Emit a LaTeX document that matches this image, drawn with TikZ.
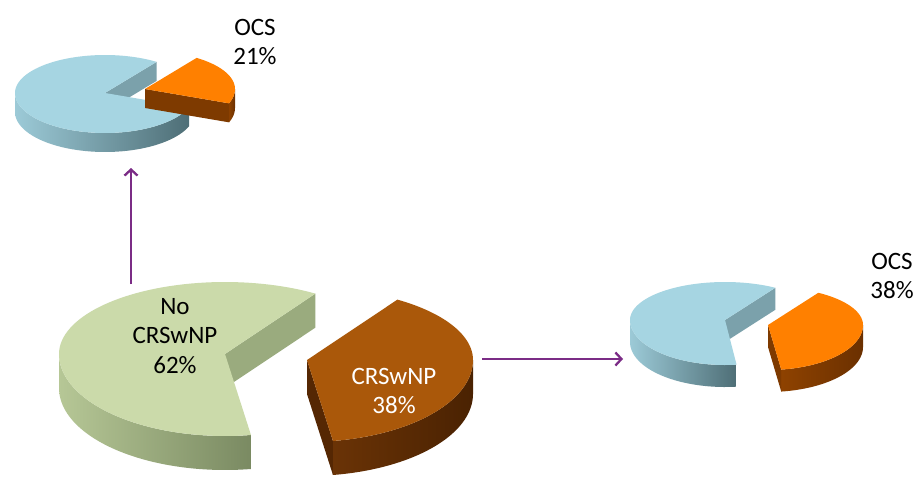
\documentclass[tikz,border=0pt]{standalone}
\usepackage{fontspec}
\setmainfont{Carlito}
\usetikzlibrary{arrows.meta}

\definecolor{flowpurple}{HTML}{7B2C86}
% green / brown pie
\definecolor{sageTop}{HTML}{CBDAAA}
\definecolor{sageWallL}{HTML}{B6C796}
\definecolor{sageWallR}{HTML}{7A8A62}
\definecolor{sageCut}{HTML}{9AAB7E}
\definecolor{rustTop}{HTML}{AA580A}
\definecolor{rustWallL}{HTML}{6A3306}
\definecolor{rustWallR}{HTML}{4A2202}
\definecolor{rustCut}{HTML}{552703}
% blue / orange pies
\definecolor{skyTop}{HTML}{A6D5E2}
\definecolor{skyWallL}{HTML}{9CCAD7}
\definecolor{skyWallR}{HTML}{4E6E76}
\definecolor{skyCut}{HTML}{7BA1AB}
\definecolor{ambTop}{HTML}{FF8000}
\definecolor{ambWallL}{HTML}{8E4200}
\definecolor{ambWallR}{HTML}{6B3000}
\definecolor{ambCut}{HTML}{7E3A00}

% point on the rim of a tilted pie (back half flatter than front half)
\tikzset{declare function={
  wx(\t)=\rx*cos(\t);
  wy(\t)=-sin(\t)*ifthenelse(sin(\t)>0,\ryb,\ryf);
}}

% one 3-D slice: vertex (#1,#2), angles #3..#4 (counter-clockwise),
% top colour #5, wall shading #6 -> #7, cut-face colour #8
\newcommand{\pieslice}[8]{%
  \pgfmathsetmacro\wa{ifthenelse(#3<0,#3,max(#3,180))}%
  \pgfmathsetmacro\wb{ifthenelse(#3<0,min(#4,0),#4)}%
  \shade[left color=#6,right color=#7]
    plot[domain=\wa:\wb,samples=50] ({#1+wx(\x)},{#2+wy(\x)})
    -- plot[domain=\wb:\wa,samples=50] ({#1+wx(\x)},{#2+wy(\x)+\dep})
    -- cycle;
  \fill[#8] (#1,#2) -- ({#1+wx(#3)},{#2+wy(#3)})
    -- ({#1+wx(#3)},{#2+wy(#3)+\dep}) -- (#1,{#2+\dep}) -- cycle;
  \fill[#5] (#1,#2) -- plot[domain=#3:#4,samples=90] ({#1+wx(\x)},{#2+wy(\x)}) -- cycle;
}

\begin{document}
\begin{tikzpicture}[x=1pt,y=-1pt,
  lbl/.style={align=center,inner sep=0pt,font=\fontsize{25}{29.5}\selectfont},
  flow/.style={draw=flowpurple,line width=2.3pt,-{Straight Barb[length=6pt,width=13pt]}}]
\useasboundingbox[fill=white] (0,0) rectangle (917,482);

% large pie
\def\rx{166}\def\ryb{72}\def\ryf{82}\def\dep{34}
\pieslice{225}{354}{57}{279}{sageTop}{sageWallL}{sageWallR}{sageCut}
\pieslice{307}{360}{-81}{57}{rustTop}{rustWallL}{rustWallR}{rustCut}

% upper pie
\def\rx{90}\def\ryb{38}\def\ryf{40}\def\dep{19}
\pieslice{105}{93}{55}{339}{skyTop}{skyWallL}{skyWallR}{skyCut}
\pieslice{145}{89}{-21}{55}{ambTop}{ambWallL}{ambWallR}{ambCut}

% right pie
\def\rx{95}\def\ryb{38}\def\ryf{45}\def\dep{22}
\pieslice{725}{320}{58}{277}{skyTop}{skyWallL}{skyWallR}{skyCut}
\pieslice{768}{325}{-82}{58}{ambTop}{ambWallL}{ambWallR}{ambCut}

% labels
\node[lbl] (ocsTop) at (255,42) {OCS\\21\%};
\node[lbl] (ocsRight) at (892,276) {OCS\\38\%};
\node[lbl] (noPolyp) at (175,336) {No\\CRSwNP\\62\%};
\node[lbl,text=white] (polyp) at (394,391) {CRSwNP\\38\%};

% connectors
\coordinate (upStart) at (131,284);
\coordinate (upEnd) at (131,168);
\coordinate (rightStart) at (482,359);
\coordinate (rightEnd) at (623,359);
\draw[flow] (upStart) -- (upEnd);
\draw[flow] (rightStart) -- (rightEnd);
\end{tikzpicture}
\end{document}
